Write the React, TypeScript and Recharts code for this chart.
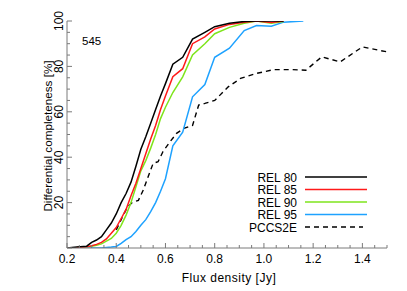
import React from 'react';
import { LineChart, Line, XAxis, YAxis } from 'recharts';

const FONT = '"Liberation Sans", Arial, Helvetica, sans-serif';
const AXIS = '#7a7a7a';

// Flux density grid (Jy) shared by the REL curves
const flux = [0.20, 0.24, 0.28, 0.30, 0.32, 0.34, 0.36, 0.38, 0.40, 0.42, 0.44, 0.46, 0.48, 0.50, 0.52, 0.54, 0.56, 0.58, 0.60, 0.63, 0.67, 0.71, 0.76, 0.80, 0.86, 0.92, 0.97, 1.03, 1.08, 1.16];
const rel80 = [0, 0.4, 0.8, 2.5, 3.5, 5, 8, 11, 15, 20, 24, 29, 36, 43.5, 49, 55, 61, 67, 72.4, 81, 84, 92, 95, 97.5, 99, 99.8, 100, 100, 100, null];
const rel85 = [0, 0.2, 0.5, 1, 1.6, 2.5, 4, 6.5, 9, 13, 17, 23, 28.5, 35, 41.5, 48, 54, 61, 67, 75.5, 79, 90, 93, 96.5, 98.5, 99.5, 100, 99.3, 100, null];
const rel90 = [0, 0.2, 0.5, 0.8, 1.2, 1.8, 3, 4.2, 6.5, 10, 14.5, 20, 27, 34, 38.5, 44, 50, 57, 62, 68.5, 75.4, 85, 90, 94.4, 97.2, 99, 100, 99, 99.8, null];
const rel95 = [0, 0, 0, 0, 0, 0, 0.2, 0.4, 0.7, 2, 3.7, 5, 7.3, 10, 12.5, 16, 20, 25, 30.5, 45, 51, 66.6, 72, 84, 88, 95.8, 98, 97.7, 99.5, 100];

// PCCS2E curve
const pccsFlux = [0.40, 0.42, 0.445, 0.465, 0.49, 0.51, 0.53, 0.55, 0.57, 0.59, 0.62, 0.645, 0.675, 0.71, 0.735, 0.76, 0.80, 0.855, 0.905, 0.97, 1.04, 1.11, 1.17, 1.235, 1.31, 1.40, 1.50];
const pccs = [8, 12.5, 18, 20, 21, 25.6, 31.5, 37.3, 38, 42.5, 47, 50.5, 52.7, 54, 63, 63.7, 65, 71, 74.7, 76.9, 78.6, 78.6, 78.3, 84.2, 82, 88.6, 86.4];

const seriesNames = ['REL 80', 'REL 85', 'REL 90', 'REL 95', 'PCCS2E'];
const seriesKeys = ['rel80', 'rel85', 'rel90', 'rel95', 'pccs'];
const seriesColors = ['#000000', '#ff1a1a', '#7ee51c', '#1ea2ff', '#000000'];

const xMajorTicks = [0.2, 0.4, 0.6, 0.8, 1.0, 1.2, 1.4];
const xMajorLabels = ['0.2', '0.4', '0.6', '0.8', '1.0', '1.2', '1.4'];
const xAllTicks = [0.2, 0.25, 0.3, 0.35, 0.4, 0.45, 0.5, 0.55, 0.6, 0.65, 0.7, 0.75, 0.8, 0.85, 0.9, 0.95, 1.0, 1.05, 1.1, 1.15, 1.2, 1.25, 1.3, 1.35, 1.4, 1.45, 1.5];
const yMajorTicks = [20, 40, 60, 80, 100];
const yAllTicks = [0, 5, 10, 15, 20, 25, 30, 35, 40, 45, 50, 55, 60, 65, 70, 75, 80, 85, 90, 95, 100];

const relData = flux.map((f, i) => ({ flux: f, rel80: rel80[i], rel85: rel85[i], rel90: rel90[i], rel95: rel95[i] }));
const pccsData = pccsFlux.map((f, i) => ({ flux: f, pccs: pccs[i] }));

const isMajorX = (v: number) => xMajorTicks.some((t) => Math.abs(t - v) < 1e-6);
const xLabel = (v: number) => xMajorLabels[xMajorTicks.findIndex((t) => Math.abs(t - v) < 1e-6)];
const isMajorY = (v: number) => yMajorTicks.includes(v) || v === 0;

const BottomTick = (p: any) => {
  const v = p.payload.value;
  const major = isMajorX(v);
  return (
    <g>
      <line x1={p.x} x2={p.x} y1={p.y} y2={p.y - (major ? 5 : 3)} stroke={AXIS} strokeWidth={1} />
      {major ? (
        <text x={p.x} y={p.y + 14.5} textAnchor="middle" fontSize={12} fontFamily={FONT} fill="#000">{xLabel(v)}</text>
      ) : null}
    </g>
  );
};

const TopTick = (p: any) => {
  const v = p.payload.value;
  const major = isMajorX(v);
  return <line x1={p.x} x2={p.x} y1={p.y} y2={p.y + (major ? 5 : 3)} stroke={AXIS} strokeWidth={1} />;
};

const LeftTick = (p: any) => {
  const v = p.payload.value;
  const major = isMajorY(v);
  const tx = p.x - 4;
  return (
    <g>
      <line x1={p.x} x2={p.x + (major ? 5 : 3)} y1={p.y} y2={p.y} stroke={AXIS} strokeWidth={1} />
      {major && v > 0 ? (
        <text x={tx} y={p.y} transform={`rotate(-90 ${tx} ${p.y})`} textAnchor="middle" fontSize={12} fontFamily={FONT} fill="#000">{String(v)}</text>
      ) : null}
    </g>
  );
};

const RightTick = (p: any) => {
  const v = p.payload.value;
  const major = isMajorY(v);
  return <line x1={p.x} x2={p.x - (major ? 5 : 3)} y1={p.y} y2={p.y} stroke={AXIS} strokeWidth={1} />;
};

export default function App() {
  return (
    <div style={{ position: 'absolute', left: 0, top: 0, width: 407, height: 291, background: '#fff' }}>
      <LineChart width={407} height={291} data={relData} margin={{ top: 21, right: 20, bottom: 0, left: 0 }}>
        <XAxis
          xAxisId={0}
          dataKey="flux"
          type="number"
          domain={[0.2, 1.5]}
          allowDataOverflow
          ticks={xAllTicks}
          interval={0}
          tick={BottomTick}
          tickSize={0}
          tickMargin={0}
          tickLine={false}
          axisLine={{ stroke: AXIS }}
          height={43}
        />
        <XAxis
          xAxisId="top"
          orientation="top"
          dataKey="flux"
          type="number"
          domain={[0.2, 1.5]}
          allowDataOverflow
          ticks={xAllTicks}
          interval={0}
          tick={TopTick}
          tickSize={0}
          tickMargin={0}
          tickLine={false}
          axisLine={{ stroke: AXIS }}
          height={0}
        />
        <YAxis
          yAxisId={0}
          type="number"
          domain={[0, 100]}
          allowDataOverflow
          ticks={yAllTicks}
          interval={0}
          tick={LeftTick}
          tickSize={0}
          tickMargin={0}
          tickLine={false}
          axisLine={{ stroke: AXIS }}
          width={67}
        />
        <YAxis
          yAxisId="right"
          orientation="right"
          type="number"
          domain={[0, 100]}
          allowDataOverflow
          ticks={yAllTicks}
          interval={0}
          tick={RightTick}
          tickSize={0}
          tickMargin={0}
          tickLine={false}
          axisLine={{ stroke: AXIS }}
          width={0}
        />
        <Line
          data={pccsData}
          dataKey="pccs"
          name={seriesNames[4]}
          stroke={seriesColors[4]}
          strokeWidth={1.4}
          strokeDasharray="5 4"
          dot={false}
          isAnimationActive={false}
        />
        <Line dataKey="rel95" name={seriesNames[3]} stroke={seriesColors[3]} strokeWidth={1.5} dot={false} isAnimationActive={false} />
        <Line dataKey="rel90" name={seriesNames[2]} stroke={seriesColors[2]} strokeWidth={1.5} dot={false} isAnimationActive={false} />
        <Line dataKey="rel85" name={seriesNames[1]} stroke={seriesColors[1]} strokeWidth={1.5} dot={false} isAnimationActive={false} />
        <Line dataKey="rel80" name={seriesNames[0]} stroke={seriesColors[0]} strokeWidth={1.5} dot={false} isAnimationActive={false} />
      </LineChart>
      <svg style={{ position: 'absolute', left: 0, top: 0, pointerEvents: 'none' }} width={407} height={291}>
        <text x={52} y={136} transform="rotate(-90 52 136)" textAnchor="middle" fontSize={11.7} fontFamily={FONT} fill="#000">
          Differential completeness [%]
        </text>
        <text x={229} y={282} textAnchor="middle" fontSize={12} letterSpacing={0.5} fontFamily={FONT} fill="#000">
          Flux density [Jy]
        </text>
        <text x={82} y={44.5} fontSize={11.5} fontFamily={FONT} fill="#000">545</text>
      </svg>
      <svg style={{ position: 'absolute', left: 240, top: 168 }} width={140} height={70}>
        {seriesNames.map((n, i) => (
          <g key={seriesKeys[i]}>
            <text x={57} y={13.5 + i * 12.5} textAnchor="end" fontSize={12} fontFamily={FONT} fill="#000">{n}</text>
            <line
              x1={65}
              x2={i === 4 ? 123 : 127}
              y1={9 + i * 12.5}
              y2={9 + i * 12.5}
              stroke={seriesColors[i]}
              strokeWidth={1.5}
              strokeDasharray={i === 4 ? '5 4' : undefined}
            />
          </g>
        ))}
      </svg>
    </div>
  );
}
